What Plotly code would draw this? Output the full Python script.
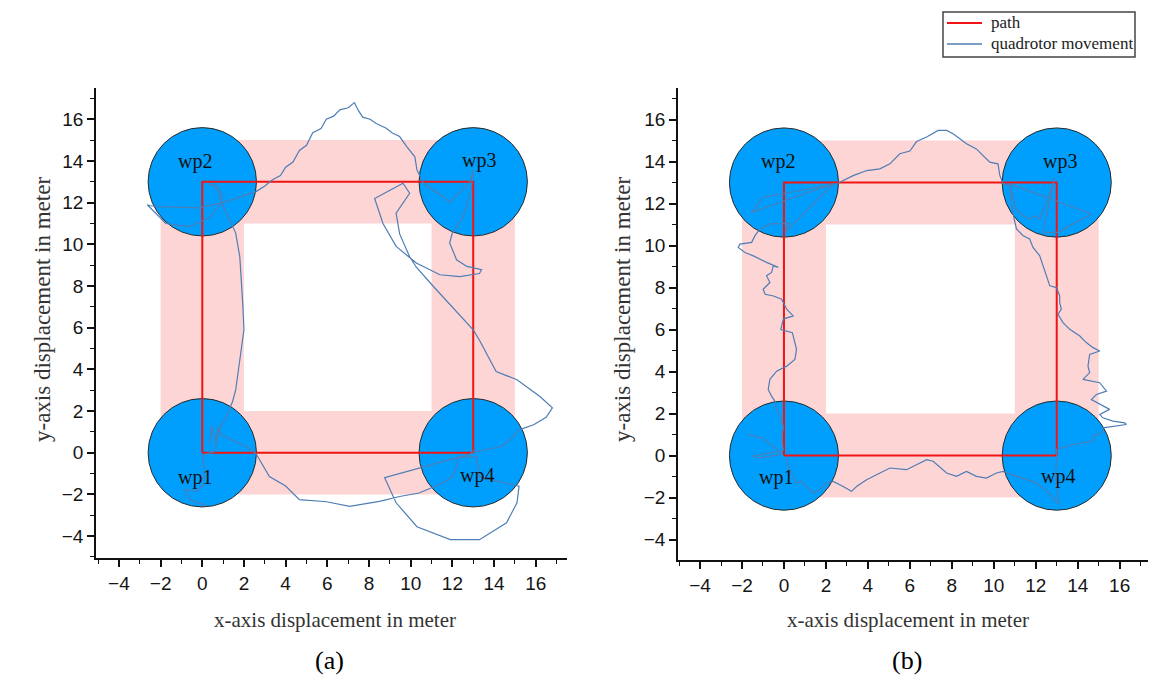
import plotly.graph_objects as go

# Reference path: square through the four waypoints (closed loop)
path_x = [0, 0, 13, 13, 0]
path_y = [0, 13, 13, 0, 0]

# Waypoints
wp_names = ["wp1", "wp2", "wp3", "wp4"]
wp_x = [0, 0, 13, 13]
wp_y = [0, 13, 13, 0]
wp_radius = 2.6
corridor_half = 2.0

# Waypoint label positions
lbl_a_x = [-0.35, -0.33, 13.3, 13.2]
lbl_a_y = [-1.2, 13.96, 14.0, -1.1]
lbl_b_x = [-0.38, -0.3, 13.14, 13.06]
lbl_b_y = [-1.05, 14.0, 14.0, -1.0]

# Measured quadrotor trajectory, run (a)
traj_a_x = [0.20, -0.60, -0.85, -0.30, 0.05, 0.10, 0.02, 0.58, 0.67, 0.80, 1.15, 1.45, 1.60, 1.80, 2.00,
            1.95, 1.90, 1.80, 1.60, 1.40, 0.97, 0.73, 0.58, 0.25, 0.70, 0.95, 0.90, 0.34, -0.63, -1.75,
            -2.64, -2.50, -1.75, -0.14, 1.14, 2.10, 2.58, 3.00, 3.37, 3.75, 4.00, 4.35, 4.66, 5.00, 5.30,
            5.70, 5.95, 6.30, 6.60, 7.00, 7.30, 7.50, 7.70, 8.05, 8.35, 8.83, 9.10, 9.47, 9.80, 10.20,
            10.30, 10.60, 11.07, 11.55, 11.87, 12.10, 12.50, 12.84, 13.00, 12.90, 12.50, 12.00, 11.87, 12.20, 12.70,
            13.40, 13.30, 12.36, 11.40, 10.27, 9.30, 8.67, 8.27, 9.63, 9.95, 9.30, 9.47, 9.95, 10.27, 11.07,
            12.00, 13.00, 13.30, 13.90, 14.10, 15.10, 16.20, 16.80, 16.50, 15.90, 15.20, 14.90, 14.60, 14.36, 13.60,
            13.16, 12.90, 12.95, 13.15, 8.75, 9.30, 10.30, 11.90, 13.30, 14.60, 15.10, 15.20, 14.30, 13.90, 13.30,
            13.16, 12.20, 12.20, 12.00, 11.55, 10.40, 9.47, 8.50, 7.07, 5.96, 4.66, 4.00, 3.22, 2.58, 2.10,
            0.90, 0.78, 0.65, 0.45, 0.35]
traj_a_y = [-2.55, -2.25, -1.75, -1.85, -1.55, -0.80, -0.10, 0.05, 0.48, 1.10, 1.73, 2.45, 3.00, 4.46, 5.90,
            7.00, 7.80, 9.40, 10.55, 11.00, 11.90, 12.60, 12.85, 12.90, 12.80, 12.40, 11.97, 11.27, 10.85, 11.00,
            11.90, 11.85, 11.80, 11.75, 12.05, 12.37, 12.53, 12.80, 13.10, 13.30, 13.70, 13.95, 14.50, 14.75, 15.35,
            15.55, 16.00, 16.15, 16.45, 16.55, 16.80, 16.40, 16.10, 16.00, 15.80, 15.57, 15.35, 15.17, 14.70, 14.20,
            13.57, 12.95, 12.60, 12.30, 12.00, 12.30, 12.60, 13.00, 13.57, 12.60, 11.30, 10.55, 10.07, 9.26, 8.94,
            8.78, 8.60, 8.45, 8.54, 9.10, 9.90, 11.00, 12.20, 12.93, 12.45, 11.50, 10.50, 9.40, 8.90, 8.00,
            7.00, 5.90, 5.40, 4.30, 3.90, 3.50, 2.70, 2.16, 1.70, 1.34, 1.10, 0.77, 0.48, 0.30, 0.14,
            0.06, 0.10, -0.05, 0.02, -1.20, -2.40, -3.55, -4.17, -4.17, -3.36, -2.40, -1.60, -1.40, -1.30, -1.14,
            -0.18, -0.25, -0.65, -1.14, -1.45, -1.93, -2.10, -2.33, -2.57, -2.35, -2.25, -1.60, -1.14, -0.05, 0.30,
            0.86, 1.25, 0.50, 1.30, 0.40]

# Measured quadrotor trajectory, run (b)
traj_b_x = [-1.70, -1.06, -0.19, -1.54, -1.14, -0.19, -0.03, -0.11, -0.03, -0.19, -0.35, -0.43, -0.59, -0.75, -0.67,
            -0.35, 0.13, 0.52, 0.60, 0.50, 0.40, -0.15, -0.03, 0.44, 0.13, -0.11, -0.50, -0.90, -0.99, -0.67,
            -0.83, -0.59, -0.51, -0.27, -0.83, -1.46, -1.86, -2.18, -2.10, -1.54, -1.38, -1.14, -0.67, 0.25, 0.05,
            2.35, -1.54, -0.99, 2.51, 3.30, 3.94, 4.57, 5.05, 5.52, 6.00, 6.32, 6.80, 7.35, 7.75, 8.06,
            8.38, 8.70, 9.17, 9.49, 9.81, 10.20, 10.29, 10.44, 10.76, 11.08, 11.40, 11.71, 12.03, 12.19, 12.51,
            12.75, 12.90, 12.35, 13.06, 14.65, 10.76, 10.90, 11.08, 11.40, 11.71, 11.87, 12.19, 12.35, 12.51, 12.67,
            12.99, 13.14, 13.14, 13.22, 13.06, 13.30, 13.62, 14.10, 14.41, 14.73, 15.05, 14.57, 14.49, 14.57, 14.25,
            15.05, 15.37, 14.89, 14.65, 15.20, 15.52, 15.05, 15.20, 15.68, 16.24, 16.32, 15.68, 15.20, 15.13, 14.73,
            14.73, 13.78, 12.99, 13.00, 12.95, 13.10, 12.83, 12.59, 12.35, 12.03, 11.56, 11.08, 10.44, 10.13, 9.65,
            9.17, 8.70, 8.22, 7.75, 7.11, 6.80, 6.48, 5.84, 5.05, 4.57, 3.94, 3.46, 3.22, 2.82, 2.35,
            2.03, 1.71, 1.40, 1.08, 0.84, 0.60, 0.44, 0.21, 0.13]
traj_b_y = [1.00, 0.84, 0.20, -0.03, -0.11, 0.05, 0.29, 0.76, 1.40, 1.88, 2.20, 2.59, 2.83, 3.15, 3.63,
            4.02, 4.26, 4.58, 5.06, 5.45, 5.85, 6.00, 6.50, 6.65, 6.97, 7.45, 7.60, 7.68, 7.92, 8.24,
            8.56, 8.72, 9.03, 8.96, 9.20, 9.51, 9.67, 9.91, 10.07, 10.15, 10.47, 10.79, 11.03, 11.05, 10.63,
            12.94, 11.58, 12.30, 12.94, 13.33, 13.57, 13.65, 13.89, 14.37, 14.50, 14.95, 15.17, 15.48, 15.48, 15.32,
            15.08, 14.85, 14.60, 14.29, 13.97, 13.89, 13.33, 12.94, 12.86, 11.74, 11.42, 11.26, 11.42, 11.26, 12.06,
            12.70, 13.25, 10.63, 10.63, 11.50, 12.94, 11.60, 10.79, 10.47, 10.31, 9.91, 9.51, 9.03, 8.56, 8.08,
            8.00, 7.60, 7.29, 6.97, 6.73, 6.33, 6.01, 5.69, 5.38, 5.14, 4.98, 4.82, 4.26, 3.95, 3.63,
            3.47, 3.07, 2.91, 2.67, 2.35, 2.20, 1.96, 1.80, 1.64, 1.56, 1.48, 1.40, 1.32, 1.08, 0.92,
            0.68, 0.53, 0.29, 0.00, -0.99, -2.30, -2.02, -1.78, -1.54, -1.30, -1.15, -0.99, -0.75, -0.83, -1.07,
            -0.99, -0.75, -0.99, -0.83, -0.27, -0.19, -0.35, -0.67, -0.59, -0.83, -1.15, -1.47, -1.70, -1.47, -1.23,
            -1.30, -1.62, -1.78, -1.47, -1.23, -1.30, -0.99, -0.51, -0.03]

# Axis ticks
tick_vals = [-4, -2, 0, 2, 4, 6, 8, 10, 12, 14, 16]

# Legend entries
legend_names = ["path", "quadrotor movement"]

RED = "#f01414"
BLUE_LINE = "#4f7db5"
PINK = "#fdd5d5"
WP_FILL = "#009ffd"
SERIF = "Liberation Serif, Times New Roman, serif"
SANS = "Liberation Sans, Arial, sans-serif"
W, H = 1169, 675

fig = go.Figure()

panels = [
    ("x", "y", traj_a_x, traj_a_y, lbl_a_x, lbl_a_y),
    ("x2", "y2", traj_b_x, traj_b_y, lbl_b_x, lbl_b_y),
]

shapes = []
annotations = []
for xr, yr, tx, ty, lx, ly in panels:
    # corridor bands along each leg of the path
    for i in range(4):
        x0, y0 = path_x[i], path_y[i]
        x1, y1 = path_x[i + 1], path_y[i + 1]
        if x0 == x1:
            bx0, bx1 = x0 - corridor_half, x0 + corridor_half
            by0, by1 = min(y0, y1), max(y0, y1)
        else:
            bx0, bx1 = min(x0, x1), max(x0, x1)
            by0, by1 = y0 - corridor_half, y0 + corridor_half
        shapes.append(dict(type="rect", xref=xr, yref=yr, x0=bx0, x1=bx1, y0=by0, y1=by1,
                           fillcolor=PINK, line=dict(width=0), layer="below"))
    # waypoint discs
    for cx, cy in zip(wp_x, wp_y):
        shapes.append(dict(type="circle", xref=xr, yref=yr,
                           x0=cx - wp_radius, x1=cx + wp_radius,
                           y0=cy - wp_radius, y1=cy + wp_radius,
                           fillcolor=WP_FILL, line=dict(color="#2a2a2a", width=1), layer="below"))
    for name, px, py in zip(wp_names, lx, ly):
        annotations.append(dict(xref=xr, yref=yr, x=px, y=py, text=name, showarrow=False,
                                xanchor="center", yanchor="middle",
                                font=dict(family=SERIF, size=20, color="#111")))

    fig.add_trace(go.Scatter(x=path_x, y=path_y, xaxis=xr, yaxis=yr, mode="lines",
                             line=dict(color=RED, width=2), name=legend_names[0], showlegend=False))
    fig.add_trace(go.Scatter(x=tx, y=ty, xaxis=xr, yaxis=yr, mode="lines",
                             line=dict(color=BLUE_LINE, width=1.2), name=legend_names[1],
                             showlegend=False))

# axis titles and panel captions
for cx_px, ytitle_x in [(335, 42), (908, 622)]:
    annotations.append(dict(xref="paper", yref="paper", x=cx_px / W, y=1 - 620 / H,
                            xanchor="center", yanchor="middle",
                            text="x-axis displacement in meter", showarrow=False,
                            font=dict(family=SERIF, size=21, color="#333")))
    annotations.append(dict(xref="paper", yref="paper", x=ytitle_x / W, y=1 - 310 / H,
                            xanchor="center", yanchor="middle",
                            text="y-axis displacement in meter", showarrow=False, textangle=-90,
                            font=dict(family=SERIF, size=23, color="#333")))
for cap, cx_px in [("(a)", 330), ("(b)", 907)]:
    annotations.append(dict(xref="paper", yref="paper", x=cx_px / W, y=1 - 660 / H, text=cap,
                            xanchor="center", yanchor="middle",
                            showarrow=False, font=dict(family=SERIF, size=26, color="#000")))

# legend box drawn in page coordinates
shapes.append(dict(type="rect", xref="paper", yref="paper",
                   x0=943 / W, x1=1135 / W, y0=1 - 57 / H, y1=1 - 12 / H,
                   fillcolor="white", line=dict(color="#444", width=1.5)))
for name, color, ypx, lw in [(legend_names[0], RED, 23, 2.2), (legend_names[1], BLUE_LINE, 44, 1.6)]:
    shapes.append(dict(type="line", xref="paper", yref="paper",
                       x0=947 / W, x1=982 / W, y0=1 - ypx / H, y1=1 - ypx / H,
                       line=dict(color=color, width=lw)))
    annotations.append(dict(xref="paper", yref="paper", x=989 / W, y=1 - (ypx - 1) / H, text=name,
                            xanchor="left", yanchor="middle", showarrow=False,
                            font=dict(family=SERIF, size=17, color="#222")))


def axis(domain, rng, anchor):
    return dict(domain=domain, range=rng, anchor=anchor, showgrid=False, zeroline=False,
                showline=True, linecolor="#111", linewidth=1.8, mirror=False,
                ticks="outside", ticklen=7, tickwidth=1.5, tickcolor="#111",
                tickvals=tick_vals, tickfont=dict(family=SANS, size=19, color="#151515"),
                minor=dict(ticks="outside", ticklen=4, tickwidth=1.3, tickcolor="#111",
                           dtick=1, tick0=0),
                fixedrange=True)


fig.update_layout(
    width=W, height=H,
    margin=dict(l=0, r=0, t=0, b=0),
    paper_bgcolor="white", plot_bgcolor="white",
    xaxis=axis([96 / W, 567 / W], [-5.1, 17.5], "y"),
    yaxis=axis([1 - 558 / H, 1 - 88 / H], [-5.05, 17.5], "x"),
    xaxis2=axis([678 / W, 1148 / W], [-5.05, 17.35], "y2"),
    yaxis2=axis([1 - 560 / H, 1 - 88 / H], [-4.97, 17.5], "x2"),
    shapes=shapes,
    annotations=annotations,
    showlegend=False,
)

fig.write_html("out.html")
